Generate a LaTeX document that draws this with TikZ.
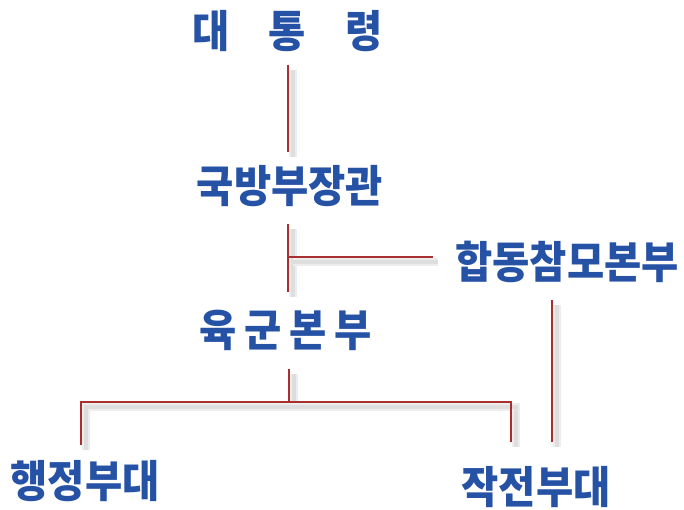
\documentclass[tikz,border=0pt]{standalone}
\usepackage{fontspec}
\newfontfamily\kr{Noto Sans CJK KR}
\usepackage{graphicx}
\definecolor{txtblue}{RGB}{38,82,166}
\definecolor{linered}{RGB}{168,48,48}
\newcommand{\krt}[1]{\scalebox{0.92}[1]{\kr\bfseries\fontsize{44pt}{48pt}\selectfont #1}}
\begin{document}
\begin{tikzpicture}[x=1pt,y=-1pt,
  lbl/.style={inner sep=0pt, text=txtblue, anchor=center},
  conn/.style={draw=linered, line width=2pt,
    preaction={draw=black!7, line width=8pt, transform canvas={xshift=5pt,yshift=-5pt}},
    preaction={draw=black!13, line width=4pt, transform canvas={xshift=5pt,yshift=-5pt}}}]
\useasboundingbox (0,0) rectangle (684,510);
\fill[white] (0,0) rectangle (684,510);
\node[lbl] (pres) at (287.5,31) {\krt{대\hspace{43pt}통\hspace{43pt}령}};
\node[lbl] (mnd) at (290,186) {\krt{국방부장관}};
\node[lbl] (jcs) at (567,262) {\krt{합동참모본부}};
\node[lbl] (army) at (286,330) {\krt{육\hspace{8.5pt}군\hspace{8.5pt}본\hspace{8.5pt}부}};
\node[lbl] (admin) at (85,481) {\krt{행정부대}};
\node[lbl] (ops) at (536,487) {\krt{작전부대}};
\coordinate (j1) at (288,257);
\coordinate (j2) at (289,402);
\coordinate (bl) at (81,402);
\coordinate (br) at (511,402);
\coordinate (jv) at (552,300);
\draw[conn, shorten <=13pt, shorten >=13pt] (pres.south -| j1) -- (mnd.north -| j1);
\draw[conn, shorten <=17pt, shorten >=18pt] (mnd.south -| j1) -- (army.north -| j1);
\draw[conn, shorten >=22pt] (j1) -- (jcs.west |- j1);
\draw[conn, shorten <=19pt] (army.south -| j2) -- (j2);
\draw[conn, shorten <=15pt, shorten >=24pt] (admin.north -| bl) -- (bl) -- (br) -- (ops.north -| br);
\draw[conn, shorten <=17pt, shorten >=24pt] (jcs.south -| jv) -- (ops.north -| jv);
\end{tikzpicture}
\end{document}
